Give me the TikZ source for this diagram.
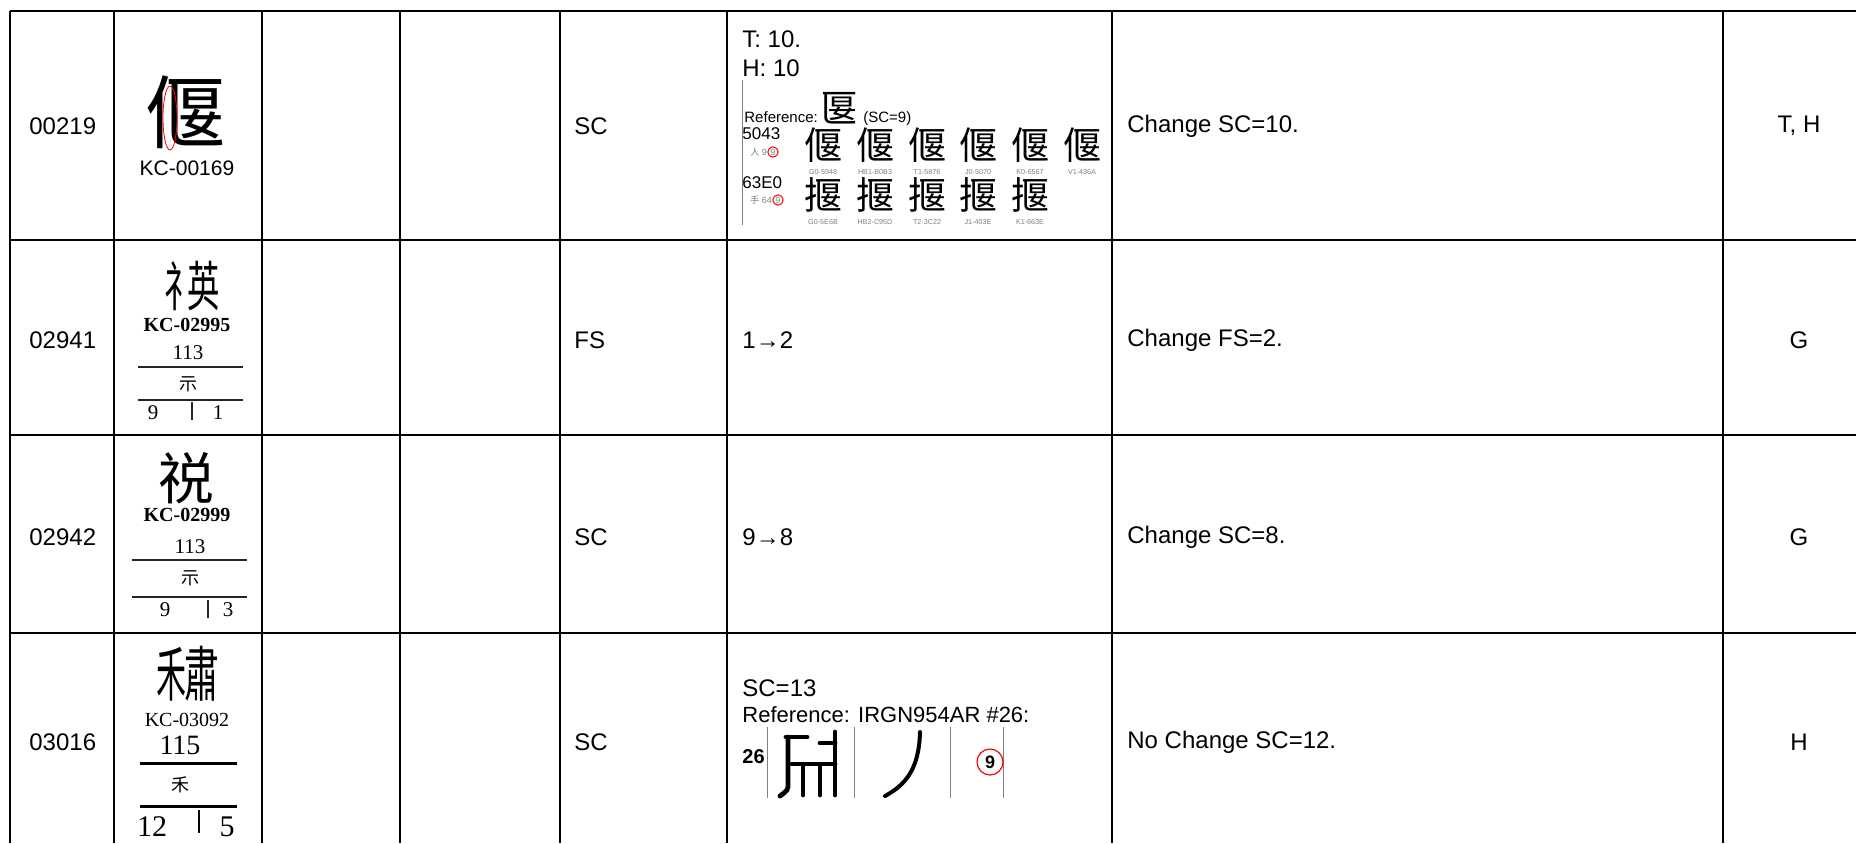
\documentclass[tikz,border=0pt]{standalone}
\usepackage{fontspec}
\usepackage{graphicx}
\setmainfont{Liberation Sans}
\newfontfamily\kcserif{Liberation Serif}
\newfontfamily\cjk{Noto Sans CJK TC}
\usetikzlibrary{positioning}

\newcommand{\fsz}[1]{\fontsize{#1}{#1}\selectfont}
\newcommand{\squeeze}[2]{\scalebox{#1}[1]{#2}}

\tikzset{
  rule/.style={line width=0.6pt, black},
  txt/.style={inner sep=0pt, anchor=west, font=\fsz{12}},
  ctxt/.style={inner sep=0pt, font=\fsz{12}},
  bigglyph/.style={inner sep=0pt, font=\cjk\fsz{#1}},
  kclab/.style={inner sep=0pt, font=\kcserif\fsz{10}},
  idxnum/.style={inner sep=0pt, font=\kcserif\fsz{#1}},
  idxrule/.style={line width=#1, black!85},
  tinylab/.style={inner sep=0pt, font=\fsz{3.6}, text=gray},
  rowglyph/.style={inner sep=0pt, font=\cjk\fsz{19}},
  redring/.style={circle, draw=red, line width=0.5pt, inner sep=0.4pt},
  sepline/.style={gray, line width=0.5pt},
  brush/.style={line width=2.4pt, line cap=round, black},
}

\begin{document}
\begin{tikzpicture}[x=0.5pt, y=-0.5pt]
  % page
  \fill[white] (0,0) rectangle (1856,843);
  \useasboundingbox (0,0) rectangle (1856,843);

  % table rules
  \foreach \y in {11,240,435,633}
    \draw[rule] (10,\y) -- (1856,\y);
  \foreach \x in {10,114,262,400,560,727,1112,1723}
    \draw[rule] (\x,11) -- (\x,843);

  % plain cells
  \foreach \id/\y/\fld/\chg/\src in {00219/126/SC/Change SC=10./{T, H},
      02941/340/FS/Change FS=2./G, 02942/537/SC/Change SC=8./G,
      03016/742/SC/No Change SC=12./H} {
    \node[txt] (id\id) at (29,\y) {\id};
    \node[txt] (fld\id) at (574,\y) {\fld};
    \node[txt] (chg\id) at (1127,\y) {\chg};
    \node[ctxt] (src\id) at (1799,\y) {\src};
  }

  % row 00219: glyph
  \node[bigglyph=40] (yan) at (185,112) {偃};
  \draw[red, line width=0.4pt] (170,118) ellipse [x radius=3.5pt, y radius=16pt];
  \node[inner sep=0pt, font=\fsz{10.5}] (kc169) at (187,168) {KC-00169};

  % row 00219: evidence
  \node[txt] (tval) at (742,39) {T: 10.};
  \node[txt] (hval) at (742,68) {H: 10};
  \draw[sepline] (742,80) -- (742,225);
  \node[inner sep=0pt, anchor=base west, font=\fsz{7.5}] (refa) at (744,122) {Reference:};
  \node[inner sep=0pt, anchor=base west, font=\cjk\fsz{19}, xshift=1pt] (refg) at (refa.base east) {匽};
  \node[inner sep=0pt, anchor=base west, font=\fsz{7.5}, xshift=2pt] (refsc) at (refg.base east) {(SC=9)};
  \node[inner sep=0pt, anchor=west, font=\fsz{8.5}] (cp5043) at (742,134) {5043};
  \node[tinylab, anchor=west, font=\fsz{4.5}] (rs5043) at (750,152) {{\cjk 人} 9};
  \node[redring, right=0pt of rs5043, font=\fsz{4.5}, text=gray] (ring5043) {9};
  \node[inner sep=0pt, anchor=west, font=\fsz{8.5}] (cp63E0) at (742,183) {63E0};
  \node[tinylab, anchor=west, font=\fsz{4.5}] (rs63E0) at (750,200) {{\cjk 手} 64};
  \node[redring, right=0pt of rs63E0, font=\fsz{4.5}, text=gray] (ring63E0) {9};
  \foreach \i/\x/\lab in {1/823/G0-5948, 2/875/HB1-B0B3, 3/927/T1-5876,
      4/978/J0-5070, 5/1030/K0-6567, 6/1082/V1-436A} {
    \node[rowglyph] (yan\i) at (\x,145) {偃};
    \node[tinylab] (yanlab\i) at (\x,172) {\lab};
  }
  \foreach \i/\x/\lab in {1/823/G0-5E6B, 2/875/HB2-C95D, 3/927/T2-3C22,
      4/978/J1-403E, 5/1030/K1-663E} {
    \node[rowglyph] (ya\i) at (\x,195) {揠};
    \node[tinylab] (yalab\i) at (\x,222) {\lab};
  }

  % row 02941: glyph and index
  \node[bigglyph=27] (ying) at (192,286) {\squeeze{0.6}{礻}\kern-4.5pt\squeeze{0.6}{英}};
  \node[kclab, font=\kcserif\bfseries\fsz{10}] (kc2995) at (187,325) {KC-02995};
  \node[idxnum=10.5] (rad2941) at (188,353) {113};
  \draw[idxrule=0.8pt] (138,367) -- (243,367);
  \node[bigglyph=9] (shi2941) at (188,384) {示};
  \draw[idxrule=0.8pt] (138,400) -- (243,400);
  \node[idxnum=10.5] (sc2941) at (153,413) {9};
  \node[idxnum=10.5] (fs2941) at (218,413) {1};
  \draw[idxrule=0.6pt] (192,402) -- (192,420);

  % row 02941 / 02942: evidence
  \node[txt] (fs12) at (742,340) {1→2};
  \node[txt] (sc98) at (742,537) {9→8};

  % row 02942: glyph and index
  \node[bigglyph=28] (shui) at (186,478) {祱};
  \node[kclab, font=\kcserif\bfseries\fsz{10}] (kc2999) at (187,515) {KC-02999};
  \node[idxnum=10.5] (rad2942) at (190,547) {113};
  \draw[idxrule=0.8pt] (132,560) -- (247,560);
  \node[bigglyph=9] (shi2942) at (190,578) {示};
  \draw[idxrule=0.8pt] (132,597) -- (247,597);
  \node[idxnum=10.5] (sc2942) at (165,610) {9};
  \node[idxnum=10.5] (fs2942) at (228,610) {3};
  \draw[idxrule=0.6pt] (208,600) -- (208,618);

  % row 03016: glyph and index
  \node[bigglyph=30] (su) at (188,674) {\squeeze{0.5}{禾}\kern-1pt\squeeze{0.58}{肅}};
  \node[kclab] (kc3092) at (187,720) {KC-03092};
  \node[idxnum=14] (rad3016) at (180,745) {115};
  \draw[idxrule=1.5pt, black] (140,763) -- (237,763);
  \node[bigglyph=9] (he3016) at (180,785) {禾};
  \draw[idxrule=1.5pt, black] (140,806) -- (237,806);
  \node[idxnum=15] (sc3016) at (152,827) {12};
  \node[idxnum=15] (fs3016) at (227,827) {5};
  \draw[idxrule=0.8pt, black] (199,810) -- (199,833);

  % row 03016: evidence
  \node[txt] (sc13) at (742,688) {SC=13};
  \node[txt, font=\fsz{11}] (irgref) at (742,715) {Reference: IRGN954AR \#26:};
  \node[txt, font=\bfseries\fsz{10}] (no26) at (742,757) {26};
  \foreach \x in {767,854,950,1003}
    \draw[sepline] (\x,727) -- (\x,798);
  \draw[brush] (786,737) -- (807,737);
  \draw[brush] (788,737) -- (788,783) .. controls (788,790) .. (780,796);
  \draw[brush] (792,764) -- (835,764);
  \draw[brush] (803,767) -- (803,795);
  \draw[brush] (820,743) -- (835,743);
  \draw[brush] (820,767) -- (820,795);
  \draw[brush] (835,732) -- (835,795);
  \draw[brush, line width=2pt] (920,732) .. controls (919,770) and (905,785) .. (885,796);
  \node[circle, draw=red, line width=0.6pt, inner sep=0pt, minimum size=13pt,
        font=\bfseries\fsz{9}] (ring9) at (990,762) {9};
\end{tikzpicture}
\end{document}
